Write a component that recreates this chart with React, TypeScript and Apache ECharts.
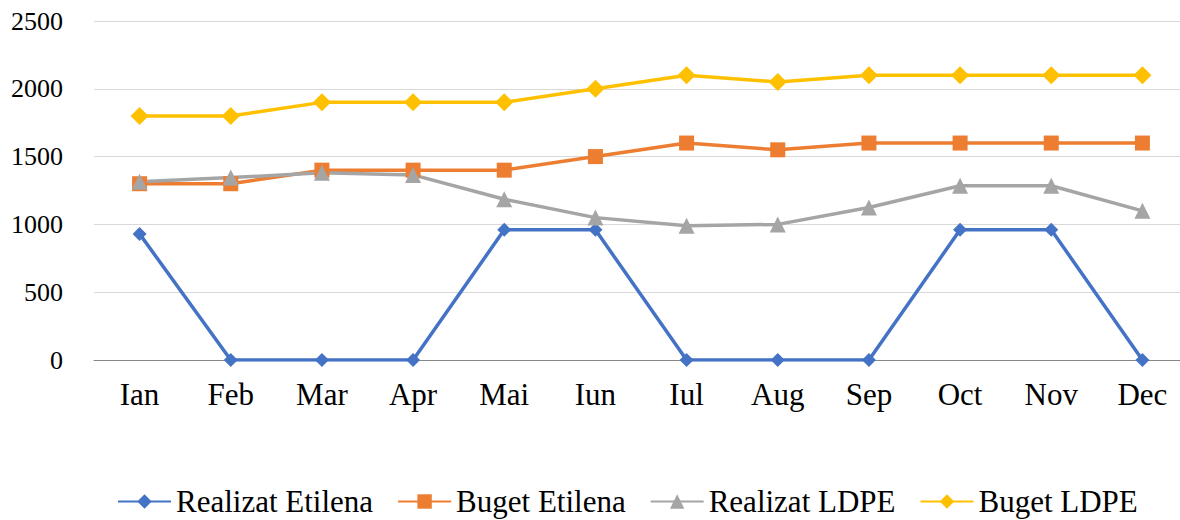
import React, { useEffect, useRef } from "react";
import * as echarts from "echarts";

const categories = ["Ian", "Feb", "Mar", "Apr", "Mai", "Iun", "Iul", "Aug", "Sep", "Oct", "Nov", "Dec"];
const realizatEtilena = [930, 0, 0, 0, 960, 960, 0, 0, 0, 960, 960, 0];
const bugetEtilena = [1300, 1300, 1400, 1400, 1400, 1500, 1600, 1550, 1600, 1600, 1600, 1600];
const realizatLDPE = [1315, 1345, 1380, 1365, 1185, 1050, 990, 1000, 1125, 1285, 1285, 1100];
const bugetLDPE = [1800, 1800, 1900, 1900, 1900, 2000, 2100, 2050, 2100, 2100, 2100, 2100];

const FONT = "'Liberation Serif', 'Times New Roman', serif";

export default function App() {
  const ref = useRef<HTMLDivElement>(null);
  useEffect(() => {
    if (!ref.current) return;
    const chart = echarts.init(ref.current, null, { renderer: "svg" });
    const mk = (name: string, data: number[], color: string, symbol: string, size: number) => ({
      name,
      type: "line",
      data,
      symbol,
      symbolSize: size,
      lineStyle: { color, width: 3.5 },
      itemStyle: { color },
      emphasis: { disabled: true },
    });
    chart.setOption({
      animation: false,
      backgroundColor: "#ffffff",
      grid: { left: 94, top: 21, right: 0, bottom: 160, containLabel: false },
      legend: {
        top: 481,
        left: 112,
        itemWidth: 53,
        itemHeight: 18,
        itemGap: 24,
        textStyle: { fontFamily: FONT, fontSize: 31, color: "#000" },
        data: ["Realizat Etilena", "Buget Etilena", "Realizat LDPE", "Buget LDPE"],
      },
      xAxis: {
        type: "category",
        data: categories,
        boundaryGap: true,
        axisLine: { lineStyle: { color: "#868686", width: 1 } },
        axisTick: { show: false },
        axisLabel: { fontFamily: FONT, fontSize: 31, color: "#000", margin: 19 },
      },
      yAxis: {
        type: "value",
        min: 0,
        max: 2500,
        interval: 500,
        axisLine: { show: false },
        axisTick: { show: false },
        splitLine: { lineStyle: { color: "#d9d9d9", width: 1 } },
        axisLabel: {
          fontFamily: FONT,
          fontSize: 26,
          color: "#000",
          margin: 31,
          formatter: (v: number) => String(v),
        },
      },
      series: [
        mk("Realizat Etilena", realizatEtilena, "#4472C4", "diamond", 14),
        mk("Buget Etilena", bugetEtilena, "#ED7D31", "rect", 15),
        mk("Realizat LDPE", realizatLDPE, "#A5A5A5", "triangle", 16),
        mk("Buget LDPE", bugetLDPE, "#FFC000", "diamond", 18),
      ],
    });
    return () => chart.dispose();
  }, []);
  return (
    <div style={{ position: "fixed", left: 0, top: 0, width: 1180, height: 520, overflow: "hidden" }}>
      <div ref={ref} style={{ width: 1188, height: 520 }} />
    </div>
  );
}
